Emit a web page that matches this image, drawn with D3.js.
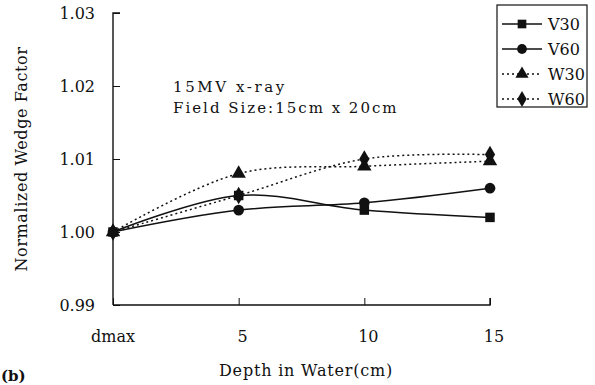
<!DOCTYPE html>
<html>
<head>
<meta charset="utf-8">
<script src="https://cdn.jsdelivr.net/npm/d3@7"></script>
<style>
  body { margin: 0; background: #fff; }
  svg { display: block; }
</style>
</head>
<body>
<svg id="chart" width="595" height="385" font-family="DejaVu Serif, Liberation Serif, serif"></svg>
<script>
// data
var depths = ['dmax', '5', '10', '15'];
var yTicks = [0.99, 1.00, 1.01, 1.02, 1.03];
var v30 = [1.000, 1.005, 1.003, 1.002];
var v60 = [1.000, 1.003, 1.004, 1.006];
var w30 = [1.000, 1.008, 1.009, 1.0097];
var w60 = [1.000, 1.005, 1.010, 1.0106];
var seriesNames = ['V30', 'V60', 'W30', 'W60'];

var series = [
  { name: seriesNames[0], values: v30, sym: d3.symbolSquare, dash: null },
  { name: seriesNames[1], values: v60, sym: d3.symbolCircle, dash: null },
  { name: seriesNames[2], values: w30, sym: d3.symbolTriangle, dash: '2,3' },
  { name: seriesNames[3], values: w60, sym: d3.symbolDiamond, dash: '2,3' }
];

const svg = d3.select('#chart');
const pL = 113, pR = 490, pT = 13, pB = 305;
const ink = '#111';

const x = d3.scalePoint().domain(depths).range([pL, pR]);
const y = d3.scaleLinear().domain([0.99, 1.03]).range([pB, pT]);

// y axis, ticks pointing inwards
const yAxis = svg.append('g')
    .attr('transform', `translate(${pL},0)`)
    .call(d3.axisRight(y).tickValues(yTicks).tickSize(7).tickFormat(''));
yAxis.select('.domain').attr('d', `M7,${pT}H0V${pB}`).attr('stroke', ink).attr('stroke-width', 1.4);
yAxis.selectAll('.tick line').attr('stroke', ink);

svg.append('g').selectAll('text')
    .data(yTicks)
    .join('text')
    .attr('x', 95)
    .attr('y', d => y(d) + 6)
    .attr('text-anchor', 'end')
    .attr('fill', ink)
    .style('font-size', '16px')
    .text(d => d.toFixed(2));

// x axis, ticks pointing up
const xAxis = svg.append('g')
    .attr('transform', `translate(0,${pB})`)
    .call(d3.axisTop(x).tickSize(7).tickFormat(''));
xAxis.select('.domain').attr('d', `M${pL},0H${pR}V-7`).attr('stroke', ink).attr('stroke-width', 1.4);
xAxis.selectAll('.tick line').attr('stroke', ink);

svg.append('g').selectAll('text')
    .data(depths)
    .join('text')
    .attr('x', (d, i) => x(d) + (i ? 4 : 0))
    .attr('y', 342)
    .attr('text-anchor', 'middle')
    .attr('fill', ink)
    .style('font-size', '16px')
    .text(d => d);

// titles
svg.append('text')
    .attr('transform', 'translate(27,159) rotate(-90)')
    .attr('text-anchor', 'middle')
    .attr('fill', ink)
    .style('font-size', '16px')
    .style('letter-spacing', '0.6px')
    .text('Normalized Wedge Factor');

svg.append('text')
    .attr('x', 306).attr('y', 376)
    .attr('text-anchor', 'middle')
    .attr('fill', ink)
    .style('font-size', '16px')
    .style('letter-spacing', '0.8px')
    .text('Depth in Water(cm)');

svg.append('text')
    .attr('x', 1).attr('y', 381)
    .attr('fill', ink)
    .style('font-size', '15px')
    .style('font-weight', 'bold')
    .text('(b)');

// annotation
svg.append('text')
    .attr('x', 173).attr('y', 92)
    .attr('fill', ink)
    .style('font-size', '15px')
    .style('letter-spacing', '2.6px')
    .text('15MV x-ray');
svg.append('text')
    .attr('x', 173).attr('y', 113)
    .attr('fill', ink)
    .style('font-size', '15px')
    .style('letter-spacing', '2px')
    .text('Field Size:15cm x 20cm');

// lines
const line = d3.line()
    .x((d, i) => x(depths[i]))
    .y(d => y(d))
    .curve(d3.curveCatmullRom.alpha(0.5));

series.forEach(s => {
  svg.append('path')
      .datum(s.values)
      .attr('fill', 'none')
      .attr('stroke', ink)
      .attr('stroke-width', 1.5)
      .attr('stroke-dasharray', s.dash)
      .attr('d', line);
});

series.forEach(s => {
  svg.append('g').selectAll('path')
      .data(s.values)
      .join('path')
      .attr('transform', (d, i) => `translate(${x(depths[i])},${y(d)})`)
      .attr('d', d3.symbol().type(s.sym).size(90))
      .attr('fill', ink);
});

// legend
const lg = svg.append('g');
lg.append('rect')
    .attr('x', 497).attr('y', 5)
    .attr('width', 90).attr('height', 102)
    .attr('fill', '#fff')
    .attr('stroke', ink)
    .attr('stroke-width', 1.2);

series.forEach((s, i) => {
  const yy = 24 + i * 25;
  lg.append('line')
      .attr('x1', 502).attr('x2', 542)
      .attr('y1', yy).attr('y2', yy)
      .attr('stroke', ink)
      .attr('stroke-width', 1.5)
      .attr('stroke-dasharray', s.dash);
  lg.append('path')
      .attr('transform', `translate(522,${yy})`)
      .attr('d', d3.symbol().type(s.sym).size(75))
      .attr('fill', ink);
  lg.append('text')
      .attr('x', 548).attr('y', yy + 6)
      .attr('fill', ink)
      .style('font-size', '16px')
      .text(s.name);
});
</script>
</body>
</html>
